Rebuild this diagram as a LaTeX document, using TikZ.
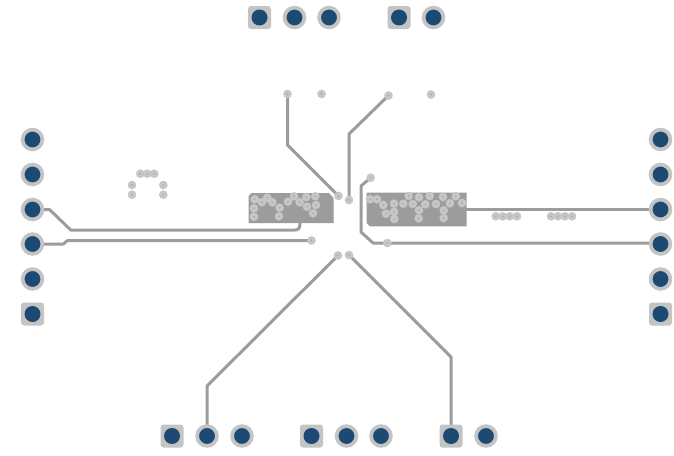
\documentclass[tikz,border=0pt]{standalone}
\usetikzlibrary{backgrounds}
\definecolor{padring}{HTML}{C4C4C4}
\definecolor{padcore}{HTML}{1D4A72}
\definecolor{viaring}{HTML}{C8C5C5}
\definecolor{viahole}{HTML}{B09C94}
\definecolor{copper}{HTML}{9C9C9C}
\tikzset{
  x=1pt,y=-1pt,
  roundpad/.style={circle,inner sep=0pt,outer sep=0pt,minimum size=19.8pt,fill=padcore,draw=padring,line width=3.7pt},
  squarepad/.style={rectangle,rounded corners=3pt,inner sep=0pt,outer sep=0pt,minimum size=23pt,fill=padring},
  padcorea/.style={circle,inner sep=0pt,outer sep=0pt,minimum size=16pt,fill=padcore},
  via/.style={circle,inner sep=0pt,outer sep=0pt,minimum size=5.2pt,fill=viahole,draw=viaring,line width=3.2pt},
  trace/.style={draw=copper,line width=3pt,line join=round},
  plane/.style={fill=copper,draw=none}
}
\begin{document}
\begin{tikzpicture}
\useasboundingbox (0,0) rectangle (674,455);
% pads
\foreach \n/\x/\y in {t2/294.5/17.5,t3/329/17.5,t5/433.5/17.5,
  l1/32.5/139.5,l2/32.5/174.5,l3/32.5/209.5,l4/32.5/244,l5/32.5/279,
  r1/660.5/139.5,r2/660.5/174.5,r3/660.5/209.5,r4/660.5/244,r5/660.5/279,
  b2/207/436,b3/242/436,b5/346.5/436,b6/381/436,b8/486/436}
  \node[roundpad] (\n) at (\x,\y) {};
\foreach \n/\x/\y in {t1/259.5/17.5,t4/399/17.5,l6/32.5/314,r6/660.5/314,
  b1/172/436,b4/311.5/436,b7/451/436}{
  \node[squarepad] (\n) at (\x,\y) {};
  \node[padcorea] (\n c) at (\x,\y) {};
}
% vias
\foreach \n/\x/\y in {
  a1/254.7/199.3,a2/254/208.3,a3/254/216.7,a4/262/202.3,a5/267.3/197.7,a6/272.3/202.3,
  a7/279.7/207.7,a8/279/216.3,a9/288/201.7,a10/294/196.3,a11/299.7/202.3,a12/306.3/197,
  a13/315.3/196.3,a14/307/206.7,a15/316/205,a16/313/213.3,
  c1/370/199.3,c2/377/199.3,c3/383.3/205,c4/394/203.7,c5/386/213.7,c6/394/211.7,
  c7/394.3/219,c8/403.3/203.7,c9/408.7/196,c10/412.7/204,c11/419/197.3,c12/425.3/204.3,
  c13/419/210.3,c14/418.7/218.3,c15/429.7/196,c16/436/204,c17/443/197,c18/450/203.3,
  c19/443.7/210.3,c20/443.7/218,c21/455.7/196.3,c22/462/203,
  d1/287.5/94,d2/321.5/94,d3/388.5/95.5,d4/431/94.5,
  e1/338.5/196,e2/349/200,e3/370.7/177.7,e4/311.5/240.5,e5/387.3/243,e6/338/255.5,e7/349/255,
  f1/140.3/173.7,f2/147.3/173.7,f3/154.3/173.7,f4/132/185,f5/132/194.7,f6/163.3/185,f7/163.3/194.7,
  g1/495.7/216.3,g2/502.7/216.3,g3/509.7/216.3,g4/517/216.3,g5/551/216.3,g6/558/216.3,g7/565/216.3,g8/572/216.3}
  \node[via] (\n) at (\x,\y) {};
% copper
\begin{pgfonlayer}{background}
\fill[white] (0,0) rectangle (674,455);
\fill[plane] (248.5,196) -- (251.5,193) -- (329,193) -- (333.5,198) -- (333.5,223) -- (248.5,223) -- cycle;
\fill[plane] (366.7,192.7) -- (466.7,192.7) -- (466.7,226.3) -- (370,226.3) -- (366.7,223) -- cycle;
\coordinate (leftplane) at (300,222);
\coordinate (rightplane) at (465,209.5);
\draw[trace] (d1.center) -- (287.5,145) -- (e1.center);
\draw[trace] (e2.center) -- (349,134) -- (d3.center);
\draw[trace] (e3.center) -- (361,186) -- (361,232) -- (373,243) -- (e5.center) -- (r4.center |- e5.center);
\draw[trace] (rightplane) -- (r3.center);
\draw[trace] (l3.center) -- (49.5,209.5) -- (70.7,230) -- (295,230) .. controls (299,230) and (300,228) .. (leftplane);
\draw[trace] (l4.center) -- (63.3,244) -- (67.3,240.7) -- (e4.center);
\draw[trace] (e6.center) -- (207,386) -- (b2.center);
\draw[trace] (e7.center) -- (451,357) -- (b7.center);
\end{pgfonlayer}
\end{tikzpicture}
\end{document}
